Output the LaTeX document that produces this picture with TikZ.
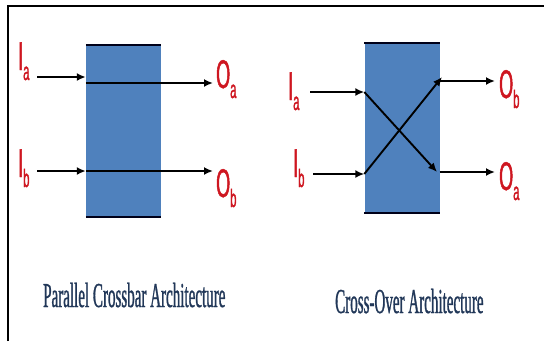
\documentclass[tikz,border=0pt]{standalone}
\usepackage{fontspec}
\usetikzlibrary{arrows.meta}
\newfontfamily\lblfamily[FakeStretch=0.45,FakeBold=1.2]{Liberation Sans}
\newfontfamily\capfamily[FakeStretch=0.43,FakeBold=0.8]{Liberation Serif}
\definecolor{portred}{RGB}{206,22,32}
\definecolor{boxblue}{RGB}{79,129,189}
\definecolor{capnavy}{RGB}{33,55,88}
% port label: large letter with a lowered small index
\newcommand{\portlbl}[2]{{\lblfamily\fontsize{40}{40}\selectfont #1\raisebox{-10pt}{\fontsize{25}{25}\selectfont #2}}}

\begin{document}
\begin{tikzpicture}[x=1pt,y=-1pt,
  switchbox/.style={draw=none,fill=boxblue,inner sep=0pt,minimum width=75pt},
  boxedge/.style={line width=2.4pt,draw=black!90!blue},
  arr/.style={line width=1.9pt,draw=black,-{Latex[length=9pt,width=8pt]}},
  port/.style={text=portred,inner sep=0pt,anchor=base west},
  caption/.style={text=capnavy,inner sep=0pt,anchor=base west,font=\capfamily\fontsize{35}{35}\selectfont},
  frameline/.style={line width=2pt,draw=black}]

\useasboundingbox (0,0) rectangle (544,341);

% frame
\coordinate (fL) at (8,341);
\coordinate (fTL) at (8,6);
\coordinate (fR) at (544,6);
\draw[frameline] (fL) -- (fTL) -- (fR);

% ---------- parallel crossbar ----------
\node[switchbox,minimum height=172pt] (boxL) at (123.5,131) {};
\draw[boxedge] (boxL.north west) -- (boxL.north east);
\draw[boxedge] (boxL.south west) -- (boxL.south east);

\coordinate (iaS) at (37,77);   \coordinate (iaE) at (boxL.west |- iaS);
\coordinate (paS) at (boxL.west |- 0,83); \coordinate (paE) at (213,83);
\coordinate (ibS) at (37,171);  \coordinate (ibE) at (boxL.west |- ibS);
\coordinate (pbE) at (213,171);

\draw[arr] (iaS) -- (iaE);
\draw[arr] (paS) -- (paE);
\draw[arr] (ibS) -- (ibE);
\draw[arr] (ibE) -- (pbE);

\node[port] (lIa) at (18,70)  {\portlbl{I}{a}};
\node[port] (lIb) at (18,177) {\portlbl{I}{b}};
\node[port] (lOa) at (216,88) {\portlbl{O}{a}};
\node[port] (lOb) at (216,197) {\portlbl{O}{b}};

\node[caption] (capL) at (43,307) {Parallel Crossbar Architecture};

% ---------- cross-over ----------
\node[switchbox,minimum height=170pt] (boxR) at (402,128) {};
\draw[boxedge] (boxR.north west) -- (boxR.north east);
\draw[boxedge] (boxR.south west) -- (boxR.south east);

\coordinate (xiaS) at (310,92);  \coordinate (xiaE) at (boxR.west |- xiaS);
\coordinate (xibS) at (313,174); \coordinate (xibE) at (boxR.west |- xibS);
\coordinate (xaE) at (437,172);
\coordinate (xbE) at (442,77);
\coordinate (xobS) at (boxR.east |- 0,81);  \coordinate (xobE) at (495,81);
\coordinate (xoaS) at (boxR.east |- 0,172); \coordinate (xoaE) at (495,172);

\draw[arr] (xiaS) -- (xiaE);
\draw[arr] (xibS) -- (xibE);
\draw[arr] (xiaE) -- (xaE);
\draw[arr] (xibE) -- (xbE);
\draw[arr] (xobS) -- (xobE);
\draw[arr] (xoaS) -- (xoaE);

\node[port] (rIa) at (288,100) {\portlbl{I}{a}};
\node[port] (rIb) at (293,177) {\portlbl{I}{b}};
\node[port] (rOb) at (499,98)  {\portlbl{O}{b}};
\node[port] (rOa) at (499,190) {\portlbl{O}{a}};

\node[caption] (capR) at (335,313) {Cross-Over Architecture};
\end{tikzpicture}
\end{document}
